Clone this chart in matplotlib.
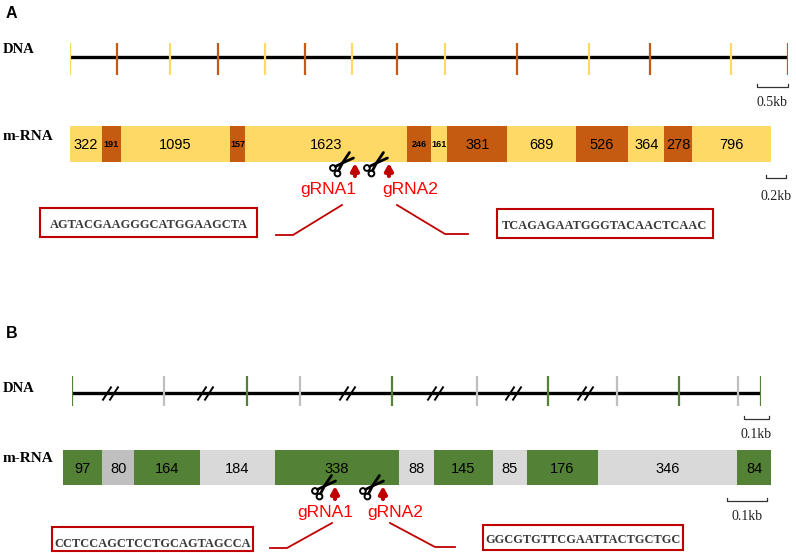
import matplotlib.pyplot as plt
import numpy as np
from matplotlib.patches import Rectangle, Circle
from matplotlib.path import Path

W, H = 796, 553

# ---- panel A data ----
a_dna_kb = [0, 0.76, 1.61, 2.39, 3.15, 3.79, 4.55, 5.27, 6.05, 7.21, 8.37, 9.35, 10.66, 11.58]
a_labels = ['322', '191', '1095', '157', '1623', '246', '161', '381', '689', '526', '364', '278', '796']
a_bp = [322, 191, 1095, 157, 1623, 246, 161, 605, 689, 526, 364, 278, 796]  # widths as drawn
a_grna_bp = [2867, 3209]
a_seqs = ['AGTACGAAGGGCATGGAAGCTA', 'TCAGAGAATGGGTACAACTCAAC']

# ---- panel B data ----
b_dna_kb = [0, 0.368, 0.70, 0.912, 1.28, 1.62, 1.904, 2.18, 2.428, 2.664, 2.756]
b_breaks_kb = [0.152, 0.532, 1.10, 1.452, 1.764, 2.052]
b_labels = ['97', '80', '164', '184', '338', '88', '145', '85', '176', '346', '84']
b_bp = [97, 80, 164, 184, 308, 88, 145, 85, 176, 346, 84]  # widths as drawn
b_grna_bp = [675, 794]
b_seqs = ['CCTCCAGCTCCTGCAGTAGCCA', 'GGCGTGTTCGAATTACTGCTGC']

YEL, ORA = '#FFD966', '#C55A11'
GRN, GRY, GRY2 = '#538135', '#D9D9D9', '#BFBFBF'
RED, DRED = '#FF0000', '#C00000'
SANS = 'Liberation Sans'
SERIF = 'Liberation Serif'

fig = plt.figure(figsize=(W / 100, H / 100), dpi=100)
base = fig.add_axes([0, 0, 1, 1])
base.set_xlim(0, W)
base.set_ylim(H, 0)
base.axis('off')
base.set_zorder(10)  # overlay on top of the tracks
base.patch.set_visible(False)


def track(x0, x1, xmax):
    # x in data units (kb / bp), y in pixel rows
    ax = fig.add_axes([x0 / W, 0, (x1 - x0) / W, 1])
    ax.set_xlim(0, xmax)
    ax.set_ylim(H, 0)
    ax.axis('off')
    ax.patch.set_alpha(0)
    return ax


def scale_bar(ax, start, length, y, text, ty):
    ax.plot([start, start, start + length, start + length], [y - 3, y, y, y - 3],
            color='#333333', lw=0.9, clip_on=False)
    ax.text(start + length / 2, ty, text, ha='center', va='baseline',
            family=SERIF, fontsize=10, color='#222222', clip_on=False)


def dna(ax, marks, colors, y, top, bottom):
    ax.plot([marks[0], marks[-1]], [y, y], color='black', lw=2.4, solid_capstyle='butt', zorder=2)
    ax.vlines(marks, top, bottom, colors=colors, lw=1.6, zorder=3)


def mrna(ax, widths, labels, colors, yc, h, small_below=0):
    lefts = np.concatenate([[0], np.cumsum(widths)[:-1]])
    ax.barh(yc, widths, left=lefts, height=h, color=colors, edgecolor='none')
    for l, w, lab in zip(lefts, widths, labels):
        small = w < small_below
        fs = 6.5 if small else 10.5
        ax.text(l + w / 2, yc + 0.36 * fs * 100 / 72, lab, ha='center', va='baseline',
                family=SANS, fontsize=fs, fontweight='bold' if small else 'normal', color='black')


def scissors(cx, yb):
    # small scissors drawn in pixel space, handles lower-left, blades up-right
    for (dx, dy) in [(-22, 6), (-17.5, 11.5)]:
        base.add_patch(Circle((cx + dx, yb + dy), 2.9, fill=False, ec='black', lw=1.4))
    base.plot([cx - 19.5, cx - 12.5, cx - 1.5], [yb + 4.5, yb + 1, yb - 4],
              color='black', lw=2.0, solid_capstyle='round')
    base.plot([cx - 16.5, cx - 12.5, cx - 5.5], [yb + 8.8, yb + 1, yb - 9.5],
              color='black', lw=2.0, solid_capstyle='round')


def cuts(ax, sites, bottom, shift):
    for s in sites:
        ax.annotate('', xy=(s, bottom + 1), xytext=(s, bottom + 14),
                    arrowprops=dict(arrowstyle='-|>,head_width=0.22,head_length=0.4',
                                    color=DRED, lw=3, shrinkA=0, shrinkB=0, mutation_scale=10))
        px = ax.transData.transform((s, 0))[0]
        scissors(px + shift, bottom)


def seq_box(x0, x1, y0, y1, seq, base_y):
    base.add_patch(Rectangle((x0, y0), x1 - x0, y1 - y0, fill=False, ec=DRED, lw=1.5))
    base.text((x0 + x1) / 2, base_y, seq, ha='center', va='baseline', family=SERIF,
              fontweight='bold', fontsize=8.9, color='#3a3a3a')


# ---------------- panel A ----------------
base.text(6, 18.5, 'A', family=SANS, fontweight='bold', fontsize=11.5, va='baseline')
base.text(3, 53, 'DNA', family=SERIF, fontweight='bold', fontsize=10.6, va='baseline')
base.text(3, 140, 'm-RNA', family=SERIF, fontweight='bold', fontsize=11, va='baseline')

ax_a_dna = track(70, 788, a_dna_kb[-1])
dna(ax_a_dna, a_dna_kb, [YEL if i % 2 == 0 else ORA for i in range(len(a_dna_kb))], 57, 43, 75)
scale_bar(ax_a_dna, a_dna_kb[-1] - 0.5, 0.5, 87, '0.5kb', 106.5)

ax_a_rna = track(70, 771, sum(a_bp))
mrna(ax_a_rna, a_bp, a_labels, [YEL if i % 2 == 0 else ORA for i in range(len(a_bp))], 144, 36,
     small_below=250)
cuts(ax_a_rna, a_grna_bp, 162, 0)
scale_bar(ax_a_rna, 7003, 200, 178, '0.2kb', 200)

base.text(328, 194, 'gRNA1', ha='center', va='baseline', family=SANS, fontsize=12.5, color=RED)
base.text(410, 194, 'gRNA2', ha='center', va='baseline', family=SANS, fontsize=12.5, color=RED)
base.plot([342, 293, 276], [205, 235, 235], color=DRED, lw=1.3)
base.plot([397, 445, 468], [205, 234, 234], color=DRED, lw=1.3)
seq_box(40, 257, 208, 237, a_seqs[0], 228)
seq_box(497, 713, 209, 238, a_seqs[1], 229)

# ---------------- panel B ----------------
base.text(6, 338.5, 'B', family=SANS, fontweight='bold', fontsize=11.5, va='baseline')
base.text(3, 392, 'DNA', family=SERIF, fontweight='bold', fontsize=10.6, va='baseline')
base.text(3, 462, 'm-RNA', family=SERIF, fontweight='bold', fontsize=11, va='baseline')

ax_b_dna = track(72, 761, b_dna_kb[-1])
dna(ax_b_dna, b_dna_kb, [GRN if i % 2 == 0 else GRY2 for i in range(len(b_dna_kb))], 393, 376, 406)
slash = Path([(-8, -7), (1, 7), (-1, -7), (8, 7)],
             [Path.MOVETO, Path.LINETO, Path.MOVETO, Path.LINETO])
ax_b_dna.plot(b_breaks_kb, [393] * len(b_breaks_kb), ls='none', marker=slash,
              markersize=11.5, mew=1.4, mec='black', mfc='none', zorder=4)
scale_bar(ax_b_dna, 2.688, 0.1, 419, '0.1kb', 438)

ax_b_rna = track(63, 771, sum(b_bp))
b_cols = [GRN if i % 2 == 0 else GRY for i in range(len(b_bp))]
b_cols[1] = GRY2
mrna(ax_b_rna, b_bp, b_labels, b_cols, 467.5, 35)
cuts(ax_b_rna, b_grna_bp, 485, 2)
scale_bar(ax_b_rna, 1648, 100, 501, '0.1kb', 520)

base.text(325, 517, 'gRNA1', ha='center', va='baseline', family=SANS, fontsize=12.5, color=RED)
base.text(395, 517, 'gRNA2', ha='center', va='baseline', family=SANS, fontsize=12.5, color=RED)
base.plot([332, 287, 270], [523, 548, 548], color=DRED, lw=1.3)
base.plot([390, 435, 455], [523, 547, 547], color=DRED, lw=1.3)
seq_box(52, 253, 527, 551, b_seqs[0], 547)
seq_box(483, 683, 525, 550, b_seqs[1], 543)

fig.savefig('out.png', dpi=100)
